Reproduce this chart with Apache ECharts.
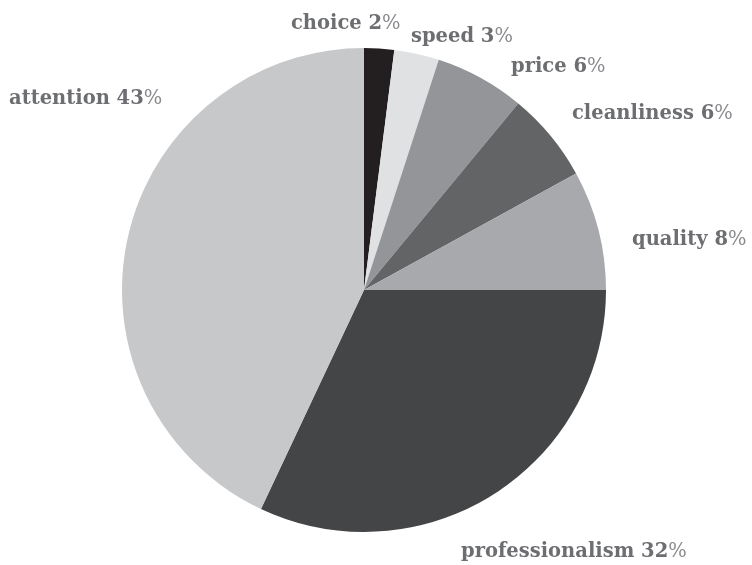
<!DOCTYPE html>
<html>
<head>
<meta charset="utf-8">
<script src="https://cdn.jsdelivr.net/npm/echarts@6/dist/echarts.min.js"></script>
<style>html,body{margin:0;padding:0;background:#fff}#c{width:752px;height:565px}</style>
</head>
<body>
<div id="c"></div>
<script>
var categories = ['choice', 'speed', 'price', 'cleanliness', 'quality', 'professionalism', 'attention'];
var values = [2, 3, 6, 6, 8, 32, 43];

// styling / layout (not data)
var colors = ['#231f20', '#e0e1e2', '#939598', '#636466', '#a7a9ac', '#444547', '#c7c8ca'];
var labelPos = [[291, 24], [411, 37], [511, 67], [572, 114], [632, 240], [461, 552], [9, 99]];

var chart = echarts.init(document.getElementById('c'));
chart.setOption({
  animation: false,
  backgroundColor: '#fff',
  series: [{
    type: 'pie',
    center: [364, 290],
    radius: 242,
    startAngle: 90,
    clockwise: true,
    data: categories.map(function (c, i) {
      return { name: c, value: values[i], itemStyle: { color: colors[i] } };
    }),
    label: {
      show: true,
      position: 'outside',
      overflow: 'none',
      formatter: function (p) { return '{n|' + p.name + ' ' + p.value + '}{v|%}'; },
      rich: {
        n: { fontFamily: 'DejaVu Serif', fontWeight: 'bold', fontSize: 19.5, color: '#6d6e71' },
        v: { fontFamily: 'DejaVu Serif', fontWeight: 'normal', fontSize: 19.5, color: '#8a8b8e' }
      }
    },
    labelLine: { show: false },
    labelLayout: function (params) {
      var p = labelPos[params.dataIndex];
      return { x: p[0], y: p[1], align: 'left', verticalAlign: 'middle', hideOverlap: false };
    },
    emphasis: { disabled: true }
  }]
});
</script>
</body>
</html>
